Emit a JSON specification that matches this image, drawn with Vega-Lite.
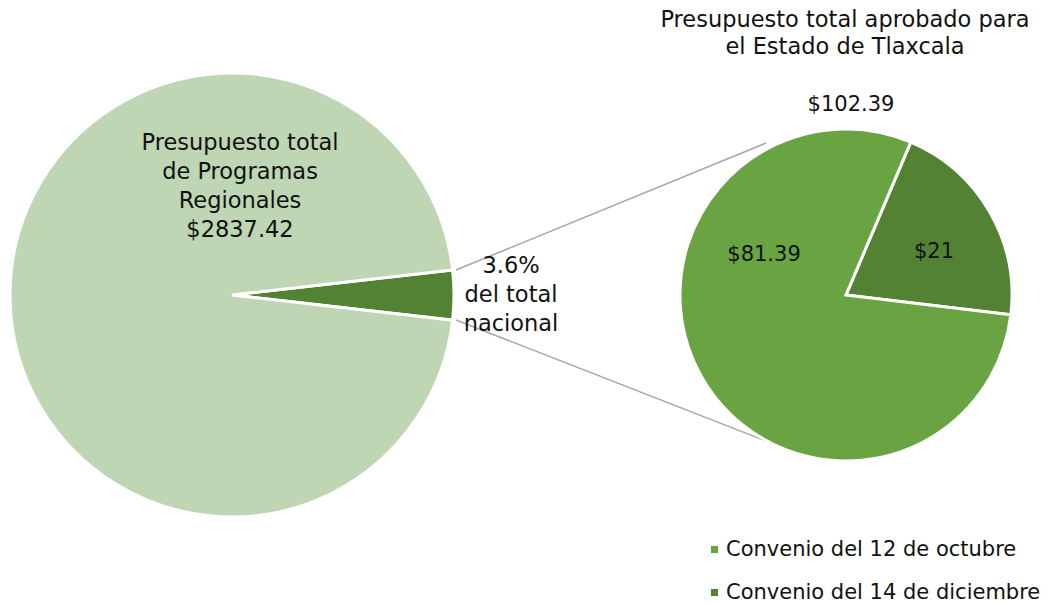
{
  "$schema": "https://vega.github.io/schema/vega-lite/v6.json",
  "width": 1049,
  "height": 605,
  "padding": 0,
  "autosize": {"type": "none"},
  "background": "white",
  "config": {"view": {"stroke": null}, "font": "DejaVu Sans"},
  "datasets": {
    "nacional": [
      {"concepto": "Tlaxcala", "monto": 102.39, "cx": 232, "cy": 295, "orden": 1},
      {"concepto": "Resto de Programas Regionales", "monto": 2735.03, "cx": 232, "cy": 295, "orden": 2}
    ],
    "tlaxcala": [
      {"concepto": "Convenio del 14 de diciembre", "monto": 21, "cx": 846, "cy": 295, "orden": 1},
      {"concepto": "Convenio del 12 de octubre", "monto": 81.39, "cx": 846, "cy": 295, "orden": 2}
    ],
    "conectores": [
      {"x": 456, "y": 270, "x2": 766, "y2": 143},
      {"x": 456, "y": 320, "x2": 766, "y2": 441}
    ],
    "etiquetas": [
      {"texto": "Presupuesto total\nde Programas\nRegionales\n$2837.42", "x": 240, "y": 143},
      {"texto": "3.6%\ndel total\nnacional", "x": 511, "y": 266}
    ],
    "titulo": [
      {"texto": "Presupuesto total aprobado para\nel Estado de Tlaxcala", "x": 845, "y": 20}
    ],
    "montos": [
      {"texto": "$102.39", "x": 851, "y": 105},
      {"texto": "$81.39", "x": 764, "y": 255},
      {"texto": "$21", "x": 934, "y": 252}
    ]
  },
  "encoding": {
    "x": {"type": "quantitative", "scale": {"domain": [0, 1049]}, "axis": null},
    "y": {"type": "quantitative", "scale": {"domain": [0, 605], "reverse": true}, "axis": null}
  },
  "layer": [
    {
      "data": {"name": "conectores"},
      "mark": {"type": "rule", "color": "#A6A6A6", "strokeWidth": 1.5},
      "encoding": {
        "x": {"field": "x", "type": "quantitative"},
        "y": {"field": "y", "type": "quantitative"},
        "x2": {"field": "x2"},
        "y2": {"field": "y2"}
      }
    },
    {
      "data": {"name": "nacional"},
      "mark": {"type": "arc", "outerRadius": 222, "stroke": "white", "strokeWidth": 3},
      "encoding": {
        "x": {"field": "cx", "type": "quantitative"},
        "y": {"field": "cy", "type": "quantitative"},
        "theta": {"field": "monto", "type": "quantitative", "stack": true, "scale": {"range": [1.4577, 7.7409]}},
        "order": {"field": "orden", "type": "quantitative"},
        "color": {
          "field": "concepto", "type": "nominal",
          "scale": {
            "domain": ["Convenio del 12 de octubre", "Convenio del 14 de diciembre", "Resto de Programas Regionales", "Tlaxcala"],
            "range": ["#6AA342", "#548235", "#BED6B3", "#548235"]
          },
          "legend": {
            "values": ["Convenio del 12 de octubre", "Convenio del 14 de diciembre"],
            "title": null,
            "orient": "none",
            "legendX": 704,
            "legendY": 539,
            "symbolType": "square",
            "symbolSize": 50,
            "symbolStrokeWidth": 0,
            "labelFontSize": 21,
            "labelColor": "#111111",
            "labelOffset": 1,
            "rowPadding": 21,
            "labelLimit": 400
          }
        }
      }
    },
    {
      "data": {"name": "tlaxcala"},
      "mark": {"type": "arc", "outerRadius": 166, "stroke": "white", "strokeWidth": 3},
      "encoding": {
        "x": {"field": "cx", "type": "quantitative"},
        "y": {"field": "cy", "type": "quantitative"},
        "theta": {"field": "monto", "type": "quantitative", "stack": true, "scale": {"range": [0.401, 6.6842]}},
        "order": {"field": "orden", "type": "quantitative"},
        "color": {"field": "concepto", "type": "nominal"}
      }
    },
    {
      "data": {"name": "etiquetas"},
      "mark": {"type": "text", "fontSize": 22.5, "lineBreak": "\n", "lineHeight": 29, "baseline": "middle", "align": "center", "color": "#111111"},
      "encoding": {
        "x": {"field": "x", "type": "quantitative"},
        "y": {"field": "y", "type": "quantitative"},
        "text": {"field": "texto"}
      }
    },
    {
      "data": {"name": "titulo"},
      "mark": {"type": "text", "fontSize": 22.5, "lineBreak": "\n", "lineHeight": 27, "baseline": "middle", "align": "center", "color": "#111111"},
      "encoding": {
        "x": {"field": "x", "type": "quantitative"},
        "y": {"field": "y", "type": "quantitative"},
        "text": {"field": "texto"}
      }
    },
    {
      "data": {"name": "montos"},
      "mark": {"type": "text", "fontSize": 21, "baseline": "middle", "align": "center", "color": "#111111"},
      "encoding": {
        "x": {"field": "x", "type": "quantitative"},
        "y": {"field": "y", "type": "quantitative"},
        "text": {"field": "texto"}
      }
    }
  ],
  "resolve": {"scale": {"theta": "independent"}}
}
